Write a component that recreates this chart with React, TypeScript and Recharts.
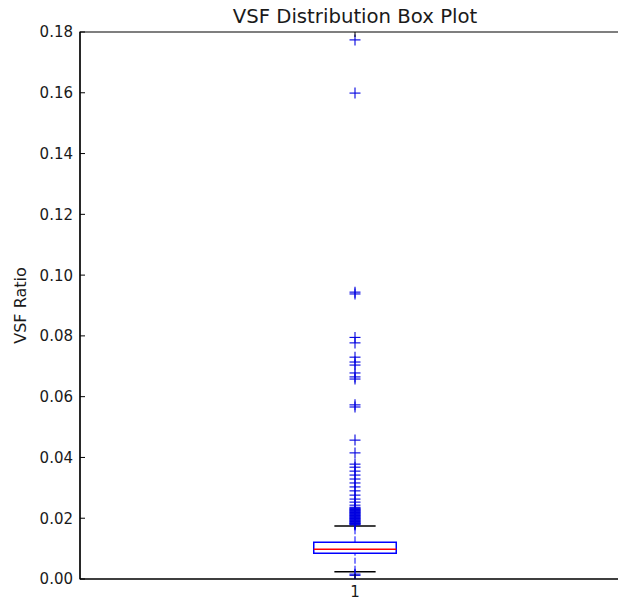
import React from "react";
import {
  ComposedChart,
  Scatter,
  XAxis,
  YAxis,
  ReferenceArea,
  ReferenceLine,
  Customized,
} from "recharts";

// VSF ratio box plot (single group), matplotlib-classic look.
const categories = [1];
const yTicks = [0, 0.02, 0.04, 0.06, 0.08, 0.1, 0.12, 0.14, 0.16, 0.18];

// q1, median, q3
const quartiles = [0.00845, 0.00977, 0.01207];
// lower / upper whisker ends
const whiskers = [0.0024, 0.01744];

const outlierValues = [
  0.0012, 0.0016,
  0.0178, 0.018, 0.0182, 0.0183, 0.0185, 0.0187, 0.0189, 0.0191, 0.0193,
  0.0195, 0.0197, 0.0199, 0.0201, 0.0203, 0.0205, 0.0207, 0.0209, 0.0211,
  0.0213, 0.0215, 0.0217, 0.0219, 0.0221, 0.0223, 0.0225, 0.0227, 0.0229,
  0.0231, 0.0233, 0.0236,
  0.0243, 0.0253, 0.0263, 0.0276, 0.029, 0.0303, 0.0316, 0.0329, 0.0342,
  0.0355, 0.0368, 0.0378, 0.0415, 0.0457,
  0.0566, 0.0573,
  0.0658, 0.0665, 0.0678, 0.0704, 0.0714, 0.073, 0.0777, 0.0795,
  0.0938, 0.0944,
  0.1599, 0.1774,
];

const W = 640;
const H = 600;
const LEFT = 80;
const TOP = 32;
const RIGHT = 10;
const X_AXIS_H = 21;
const BOX_HALF = 0.075;
const CAP_HALF = 0.0375;

const FONT = "'DejaVu Sans', 'Bitstream Vera Sans', sans-serif";
const TEXT = "#1a1a1a";
const MARK = "#0000e0";

const outlierData = outlierValues.map((v) => ({ x: categories[0], y: v }));

function PlusMarker(props: any) {
  const { cx, cy } = props;
  if (cx == null || cy == null) return null;
  const r = 5.5;
  return (
    <g>
      <line x1={cx - r} x2={cx + r} y1={cy} y2={cy} stroke={MARK} strokeWidth={1.1} />
      <line x1={cx} x2={cx} y1={cy - r} y2={cy + r} stroke={MARK} strokeWidth={1.1} />
    </g>
  );
}

function YTick(props: any) {
  const { x, y, payload } = props;
  return (
    <g>
      <line x1={x} x2={x + 5} y1={y} y2={y} stroke="#000" strokeWidth={1} />
      <text
        x={x - 7}
        y={y}
        dy="0.36em"
        textAnchor="end"
        fontSize={15}
        fontFamily={FONT}
        fill={TEXT}
      >
        {Number(payload.value).toFixed(2)}
      </text>
    </g>
  );
}

function XTick(props: any) {
  const { x, y, payload } = props;
  return (
    <g>
      <line x1={x} x2={x} y1={y} y2={y - 5} stroke="#000" strokeWidth={1} />
      <line x1={x} x2={x} y1={TOP} y2={TOP + 5} stroke="#000" strokeWidth={1} />
      <text x={x} y={y + 18} textAnchor="middle" fontSize={15} fontFamily={FONT} fill={TEXT}>
        {payload.value}
      </text>
    </g>
  );
}

function Title() {
  const cx = LEFT + (W - LEFT - RIGHT) / 2;
  return (
    <text x={cx} y={23} textAnchor="middle" fontSize={19.7} fontFamily={FONT} fill={TEXT}>
      VSF Distribution Box Plot
    </text>
  );
}

function YLabel(props: any) {
  const vb = props.viewBox || {};
  const cy = (vb.y ?? TOP) + (vb.height ?? 0) / 2;
  const cx = 20;
  return (
    <text
      x={cx}
      y={cy}
      transform={`rotate(-90, ${cx}, ${cy})`}
      textAnchor="middle"
      dominantBaseline="central"
      fontSize={16}
      fontFamily={FONT}
      fill={TEXT}
    >
      VSF Ratio
    </text>
  );
}

export default function App() {
  const c = categories[0];
  const [q1, med, q3] = quartiles;
  const [lo, hi] = whiskers;

  return (
    <div
      style={{
        position: "fixed",
        left: 0,
        top: 0,
        width: 618,
        height: 600,
        overflow: "hidden",
        background: "#fff",
      }}
    >
      <ComposedChart
        width={W}
        height={H}
        margin={{ top: TOP, right: RIGHT, bottom: 0, left: 0 }}
      >
        <XAxis
          dataKey="x"
          type="number"
          domain={[0.5, 1.5]}
          ticks={categories}
          height={X_AXIS_H}
          tickSize={0}
          tickMargin={0}
          tickLine={false}
          axisLine={{ stroke: "#000", strokeWidth: 1.2 }}
          tick={<XTick />}
          allowDataOverflow
        />
        <YAxis
          dataKey="y"
          type="number"
          domain={[0, 0.18]}
          ticks={yTicks}
          interval={0}
          width={LEFT}
          tickSize={0}
          tickMargin={0}
          tickLine={false}
          axisLine={{ stroke: "#000", strokeWidth: 1.2 }}
          tick={<YTick />}
          label={<YLabel />}
          allowDataOverflow
        />

        {/* plot frame */}
        <ReferenceArea
          x1={0.5}
          x2={1.5}
          y1={0}
          y2={0.18}
          fill="none"
          stroke="#000"
          strokeWidth={1.2}
          ifOverflow="visible"
        />

        {/* whiskers */}
        <ReferenceLine
          segment={[{ x: c, y: q3 }, { x: c, y: hi }]}
          stroke="#0000ff"
          strokeDasharray="6 2"
          strokeWidth={1}
        />
        <ReferenceLine
          segment={[{ x: c, y: lo }, { x: c, y: q1 }]}
          stroke="#0000ff"
          strokeDasharray="6 2"
          strokeWidth={1}
        />
        <ReferenceLine
          segment={[{ x: c - CAP_HALF, y: hi }, { x: c + CAP_HALF, y: hi }]}
          stroke="#000"
          strokeWidth={1.5}
        />
        <ReferenceLine
          segment={[{ x: c - CAP_HALF, y: lo }, { x: c + CAP_HALF, y: lo }]}
          stroke="#000"
          strokeWidth={1.5}
        />

        {/* box */}
        <ReferenceArea
          x1={c - BOX_HALF}
          x2={c + BOX_HALF}
          y1={q1}
          y2={q3}
          fill="#fff"
          fillOpacity={1}
          stroke="#0000ff"
          strokeWidth={1.5}
        />
        <ReferenceLine
          segment={[{ x: c - BOX_HALF, y: med }, { x: c + BOX_HALF, y: med }]}
          stroke="#ff0000"
          strokeWidth={1.5}
        />

        <Scatter
          data={outlierData}
          dataKey="y"
          shape={<PlusMarker />}
          isAnimationActive={false}
        />

        <Customized component={Title} />
      </ComposedChart>
    </div>
  );
}
